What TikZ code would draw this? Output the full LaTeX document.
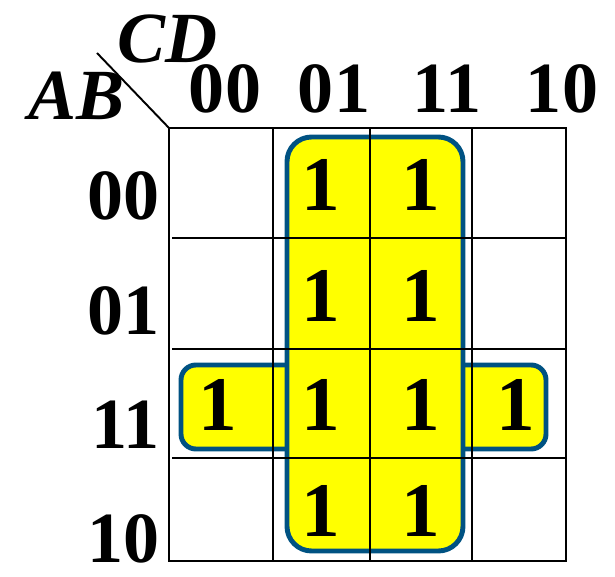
\documentclass[tikz,border=0pt]{standalone}
\usepackage{fontspec}
\setmainfont{Liberation Serif}
\usetikzlibrary{positioning}
\definecolor{grpblue}{RGB}{0,82,130}
\definecolor{grpfill}{RGB}{255,255,0}

\begin{document}
\begin{tikzpicture}[x=0.02cm, y=-0.02cm, lbl/.style={font=\fontsize{41}{41}\selectfont\bfseries, inner sep=0}, varlbl/.style={font=\fontsize{41}{41}\selectfont\bfseries\itshape, inner sep=0}, one/.style={font=\fontsize{44}{44}\selectfont\bfseries, inner sep=0, anchor=center}, grid/.style={line width=1.1pt}, grp/.style={draw=grpblue, fill=grpfill, line width=2.8pt}]
\useasboundingbox (0,0) rectangle (615,577);
% groups
\draw[grp, rounded corners=8.5pt] (181,365) rectangle (546,449);
\draw[grp, rounded corners=14pt] (287,137) rectangle (463,551);
% grid
\draw[grid] (169,128) rectangle (566,561);
\foreach \x in {273,370,472} \draw[grid] (\x,128) -- (\x,561);
\foreach \y in {238,349,458} \draw[grid] (172,\y) -- (566,\y);
\coordinate (corner) at (169,128);
\coordinate (slash) at (97,53);
\draw[line width=1.1pt] (slash) -- (corner);
% variables
\node[varlbl, anchor=base west] (cd) at (117,63) {CD};
\node[varlbl, anchor=base west] (ab) at (28,120) {AB};
% column labels
\node[lbl, anchor=base] (c00) at (225,113) {00};
\node[lbl, anchor=base] (c01) at (334,113) {01};
\node[lbl, anchor=base] (c11) at (447,113) {11};
\node[lbl, anchor=base] (c10) at (562,113) {10};
% row labels
\node[lbl, anchor=base east] (r00) at (160,220) {00};
\node[lbl, anchor=base east] (r01) at (160,335) {01};
\node[lbl, anchor=base east] (r11) at (160,448) {11};
\node[lbl, anchor=base east] (r10) at (160,562) {10};
% ones
\node[one] (m1) at (321,185) {1};
\node[one] (m3) at (421,185) {1};
\node[one] (m5) at (321,296) {1};
\node[one] (m7) at (421,296) {1};
\node[one] (m12) at (218,405) {1};
\node[one] (m13) at (321,405) {1};
\node[one] (m15) at (421,405) {1};
\node[one] (m14) at (516,405) {1};
\node[one] (m9) at (321,511) {1};
\node[one] (m11) at (421,511) {1};
\end{tikzpicture}
\end{document}
